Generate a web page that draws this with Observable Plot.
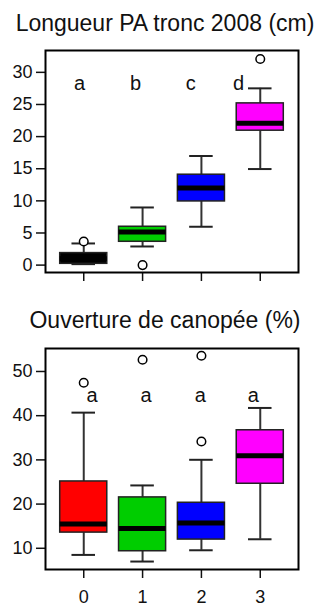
<!DOCTYPE html>
<html>
<head>
<meta charset="utf-8">
<script src="https://cdn.jsdelivr.net/npm/d3@7"></script>
<script src="https://cdn.jsdelivr.net/npm/@observablehq/plot@0.6"></script>
<style>
  html, body { margin: 0; padding: 0; background: white; }
  #page { position: relative; width: 320px; height: 607px; overflow: hidden; background: white; font-family: "Liberation Sans", Arial, sans-serif; }
  .title { position: absolute; left: 5px; width: 320px; text-align: center; font-size: 23px; line-height: 23px; color: #111; white-space: nowrap; }
  .panel { position: absolute; left: 0; }
</style>
</head>
<body>
<div id="page">
  <div class="title" style="top:11.5px">Longueur PA tronc 2008 (cm)</div>
  <div class="panel" id="p1" style="top:40px"></div>
  <div class="title" style="top:309px">Ouverture de canopée (%)</div>
  <div class="panel" id="p2" style="top:340px"></div>
</div>
<script>
// ---- shared ----
const groups = [0, 1, 2, 3];
const groupLabels = ["0", "1", "2", "3"];

// ---- Panel 1: Longueur PA tronc 2008 (cm) ----
const lenColors = ["#000000", "#00CD00", "#0000FF", "#FF00FF"];
const lenLow  = [0.15, 2.9, 5.97, 14.95];
const lenQ1   = [0.2, 3.63, 9.91, 20.92];
const lenMed  = [1.0, 5.14, 11.99, 22.06];
const lenQ3   = [1.87, 5.97, 14.07, 25.17];
const lenHigh = [3.37, 8.97, 16.98, 27.51];
const lenOutGroup = [0, 1, 3];
const lenOutValue = [3.68, 0, 32.08];
const lenLetters = ["a", "b", "c", "d"];
const lenLetterX = [-0.07, 0.88, 1.82, 2.63];
const lenLetterY = [28.2, 28.2, 28.2, 28.2];
const lenTicks = [0, 5, 10, 15, 20, 25, 30];
const lenDomain = [-1.15, 33.4];

// ---- Panel 2: Ouverture de canopée (%) ----
const canColors = ["#FF0000", "#00CD00", "#0000FF", "#FF00FF"];
const canLow  = [8.5, 7.0, 9.55, 12.04];
const canQ1   = [13.55, 9.33, 11.97, 24.6];
const canMed  = [15.5, 14.45, 15.7, 30.92];
const canQ3   = [25.12, 21.51, 20.3, 36.7];
const canHigh = [40.69, 24.22, 30.02, 41.75];
const canOutGroup = [0, 1, 2, 2];
const canOutValue = [47.46, 52.65, 34.15, 53.55];
const canLetters = ["a", "a", "a", "a"];
const canLetterX = [0.14, 1.06, 1.98, 2.88];
const canLetterY = [44.5, 44.5, 44.5, 44.5];
const canTicks = [10, 20, 30, 40, 50];
const canDomain = [5.2, 55.2];

function boxPanel(cfg) {
  const rows = groups.map((g, i) => ({
    g, low: cfg.low[i], q1: cfg.q1[i], med: cfg.med[i], q3: cfg.q3[i], high: cfg.high[i], color: cfg.colors[i]
  }));
  const outs = cfg.outGroup.map((g, i) => ({ g, v: cfg.outValue[i] }));
  const letters = cfg.letters.map((t, i) => ({ t, x: cfg.letterX[i], y: cfg.letterY[i] }));
  const boxHalf = 0.4, capHalf = 0.2;
  return Plot.plot({
    width: 320,
    height: cfg.height,
    marginLeft: 45,
    marginRight: 22,
    marginTop: cfg.marginTop,
    marginBottom: cfg.marginBottom,
    x: { domain: [-0.65, 3.65] },
    y: { domain: cfg.domain },
    style: { fontFamily: '"Liberation Sans", Arial, sans-serif', fontSize: "18px", color: "#111", background: "white", overflow: "visible" },
    marks: [
      Plot.axisY({ ticks: cfg.ticks, tickSize: 9, tickPadding: 4, fontSize: 18, label: null, strokeWidth: 1.5, tickFormat: d => String(d) }),
      Plot.axisX({ ticks: groups, tickSize: 9, tickPadding: 12, fontSize: 18, label: null, strokeWidth: 1.5,
        tickFormat: cfg.showX ? (d => groupLabels[d]) : (() => "") }),
      // whiskers
      Plot.ruleX(rows, { x: "g", y1: "q3", y2: "high", stroke: "#333", strokeWidth: 2 }),
      Plot.ruleX(rows, { x: "g", y1: "low", y2: "q1", stroke: "#333", strokeWidth: 2 }),
      Plot.ruleY(rows, { y: "high", x1: d => d.g - capHalf, x2: d => d.g + capHalf, stroke: "#222", strokeWidth: 2 }),
      Plot.ruleY(rows, { y: "low", x1: d => d.g - capHalf, x2: d => d.g + capHalf, stroke: "#222", strokeWidth: 2 }),
      // boxes
      Plot.rect(rows, { x1: d => d.g - boxHalf, x2: d => d.g + boxHalf, y1: "q1", y2: "q3", fill: "color", stroke: "#222", strokeWidth: 1.5 }),
      // medians
      Plot.ruleY(rows, { y: "med", x1: d => d.g - boxHalf, x2: d => d.g + boxHalf, stroke: "#000", strokeWidth: 5 }),
      // outliers
      Plot.dot(outs, { x: "g", y: "v", r: 4.3, stroke: "#000", strokeWidth: 1.5, fill: "white" }),
      // significance letters
      Plot.text(letters, { x: "x", y: "y", text: "t", fontSize: 20, fill: "#111" }),
      Plot.frame({ stroke: "#000", strokeWidth: 2 })
    ]
  });
}

document.getElementById("p1").append(boxPanel({
  height: 260, marginTop: 10, marginBottom: 28, domain: lenDomain, ticks: lenTicks, showX: false,
  colors: lenColors, low: lenLow, q1: lenQ1, med: lenMed, q3: lenQ3, high: lenHigh,
  outGroup: lenOutGroup, outValue: lenOutValue, letters: lenLetters, letterX: lenLetterX, letterY: lenLetterY
}));
document.getElementById("p2").append(boxPanel({
  height: 267, marginTop: 8, marginBottom: 38, domain: canDomain, ticks: canTicks, showX: true,
  colors: canColors, low: canLow, q1: canQ1, med: canMed, q3: canQ3, high: canHigh,
  outGroup: canOutGroup, outValue: canOutValue, letters: canLetters, letterX: canLetterX, letterY: canLetterY
}));
</script>
</body>
</html>
